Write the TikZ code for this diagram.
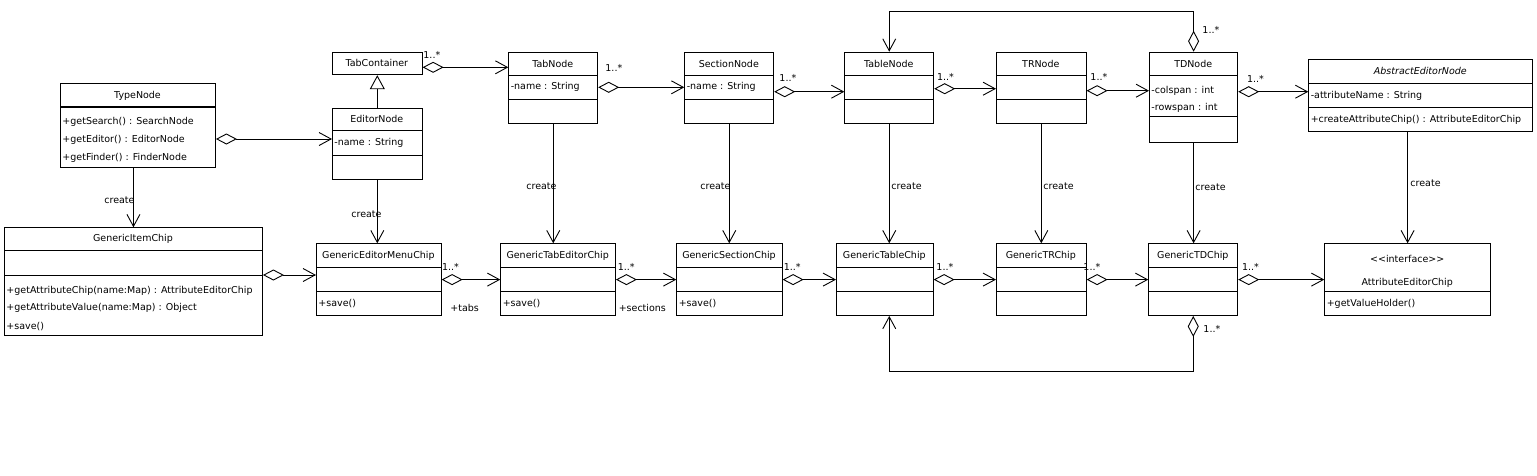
\documentclass[tikz,border=0pt]{standalone}
\usepackage{fontspec}
\setmainfont{DejaVu Sans}
\usetikzlibrary{arrows.meta}

\begin{document}
\begin{tikzpicture}[x=1pt,y=-1pt,line width=0.9pt,inner sep=0pt,
  font=\fontsize{9.5}{11}\selectfont,
  cls/.style={draw,rectangle,anchor=north west,minimum height=71.7pt},
  attr/.style={anchor=west},
  mult/.style={anchor=west},
  agg/.style={{Diamond[open,length=21pt,width=11pt]}-{Straight Barb[length=12pt,width=13pt]}},
  creates/.style={-{Straight Barb[length=12pt,width=13pt]}},
  gen/.style={-{Triangle[open,length=14pt,width=15pt]}}]
\useasboundingbox (0,0) rectangle (1537,475);
% upper row
\node[cls,minimum width=155pt,minimum height=83.4pt] (typenode) at (60,83.3) {};
\draw[line width=2pt] (typenode.west |- 0,106.7) -- (typenode.east |- 0,106.7);
\node (typenode-t) at (137.5,95.5) {TypeNode};
\node[attr] (typenode-m1) at (62,122) {+getSearch() : SearchNode};
\node[attr] (typenode-m2) at (62,140) {+getEditor() : EditorNode};
\node[attr] (typenode-m3) at (62,158) {+getFinder() : FinderNode};

\node[cls,minimum width=89.7pt,minimum height=22.6pt] (tabcontainer) at (332,51.7) {};
\node (tabcontainer-t) at (376.8,63) {TabContainer};

\node[cls,minimum width=89.7pt] (editornode) at (332,107.7) {};
\draw (editornode.west |- 0,130.7) -- (editornode.east |- 0,130.7);
\draw (editornode.west |- 0,155.7) -- (editornode.east |- 0,155.7);
\node (editornode-t) at (376.8,119.2) {EditorNode};
\node[attr] (editornode-a1) at (334,143.2) {-name : String};

\node[cls,minimum width=89pt] (tabnode) at (508.3,51.7) {};
\draw (tabnode.west |- 0,75.3) -- (tabnode.east |- 0,75.3);
\draw (tabnode.west |- 0,99.3) -- (tabnode.east |- 0,99.3);
\node (tabnode-t) at (552.8,63.5) {TabNode};
\node[attr] (tabnode-a1) at (510.3,87.3) {-name : String};

\node[cls,minimum width=89pt] (sectionnode) at (684.3,51.7) {};
\draw (sectionnode.west |- 0,75.3) -- (sectionnode.east |- 0,75.3);
\draw (sectionnode.west |- 0,99.3) -- (sectionnode.east |- 0,99.3);
\node (sectionnode-t) at (728.8,63.5) {SectionNode};
\node[attr] (sectionnode-a1) at (686.3,87.3) {-name : String};

\node[cls,minimum width=89pt] (tablenode) at (844.3,51.7) {};
\draw (tablenode.west |- 0,75.3) -- (tablenode.east |- 0,75.3);
\draw (tablenode.west |- 0,99.3) -- (tablenode.east |- 0,99.3);
\node (tablenode-t) at (888.8,63.5) {TableNode};

\node[cls,minimum width=89.7pt] (trnode) at (996,51.7) {};
\draw (trnode.west |- 0,75.3) -- (trnode.east |- 0,75.3);
\draw (trnode.west |- 0,99.3) -- (trnode.east |- 0,99.3);
\node (trnode-t) at (1040.8,63.5) {TRNode};

\node[cls,minimum width=88.3pt,minimum height=90pt] (tdnode) at (1149,51.7) {};
\draw (tdnode.west |- 0,75.3) -- (tdnode.east |- 0,75.3);
\draw (tdnode.west |- 0,116.7) -- (tdnode.east |- 0,116.7);
\node (tdnode-t) at (1193.2,63.5) {TDNode};
\node[attr] (tdnode-a1) at (1151,90.7) {-colspan : int};
\node[attr] (tdnode-a2) at (1151,107.7) {-rowspan : int};

\node[cls,minimum width=224pt,minimum height=71.4pt] (abstracteditornode) at (1308.3,59.3) {};
\draw (abstracteditornode.west |- 0,83.3) -- (abstracteditornode.east |- 0,83.3);
\draw (abstracteditornode.west |- 0,107.7) -- (abstracteditornode.east |- 0,107.7);
\node[font=\fontsize{9.5}{11}\selectfont\itshape] (abstracteditornode-t) at (1420.3,71.3) {AbstractEditorNode};
\node[attr] (abstracteditornode-a1) at (1310.3,95.5) {-attributeName : String};
\node[attr] (abstracteditornode-m1) at (1310.3,119.5) {+createAttributeChip() : AttributeEditorChip};

% lower row
\node[cls,minimum width=258pt,minimum height=107.7pt] (genericitemchip) at (4,227.3) {};
\draw (genericitemchip.west |- 0,250.7) -- (genericitemchip.east |- 0,250.7);
\draw (genericitemchip.west |- 0,275) -- (genericitemchip.east |- 0,275);
\node (genericitemchip-t) at (133,239) {GenericItemChip};
\node[attr] (genericitemchip-m1) at (6,291) {+getAttributeChip(name:Map) : AttributeEditorChip};
\node[attr] (genericitemchip-m2) at (6,308.3) {+getAttributeValue(name:Map) : Object};
\node[attr] (genericitemchip-m3) at (6,326.7) {+save()};

\node[cls,minimum width=124.7pt] (genericeditormenuchip) at (316,243.3) {};
\draw (genericeditormenuchip.west |- 0,267.7) -- (genericeditormenuchip.east |- 0,267.7);
\draw (genericeditormenuchip.west |- 0,291.7) -- (genericeditormenuchip.east |- 0,291.7);
\node (genericeditormenuchip-t) at (378.4,255.5) {GenericEditorMenuChip};
\node[attr] (genericeditormenuchip-m1) at (318,303.5) {+save()};

\node[cls,minimum width=114.7pt] (generictabeditorchip) at (500.3,243.3) {};
\draw (generictabeditorchip.west |- 0,267.7) -- (generictabeditorchip.east |- 0,267.7);
\draw (generictabeditorchip.west |- 0,291.7) -- (generictabeditorchip.east |- 0,291.7);
\node (generictabeditorchip-t) at (557.7,255.5) {GenericTabEditorChip};
\node[attr] (generictabeditorchip-m1) at (502.3,303.5) {+save()};

\node[cls,minimum width=105.4pt] (genericsectionchip) at (676.3,243.3) {};
\draw (genericsectionchip.west |- 0,267.7) -- (genericsectionchip.east |- 0,267.7);
\draw (genericsectionchip.west |- 0,291.7) -- (genericsectionchip.east |- 0,291.7);
\node (genericsectionchip-t) at (729,255.5) {GenericSectionChip};
\node[attr] (genericsectionchip-m1) at (678.3,303.5) {+save()};

\node[cls,minimum width=96.7pt] (generictablechip) at (836,243.3) {};
\draw (generictablechip.west |- 0,267.7) -- (generictablechip.east |- 0,267.7);
\draw (generictablechip.west |- 0,291.7) -- (generictablechip.east |- 0,291.7);
\node (generictablechip-t) at (884.3,255.5) {GenericTableChip};

\node[cls,minimum width=89.7pt] (generictrchip) at (996,243.3) {};
\draw (generictrchip.west |- 0,267.7) -- (generictrchip.east |- 0,267.7);
\draw (generictrchip.west |- 0,291.7) -- (generictrchip.east |- 0,291.7);
\node (generictrchip-t) at (1040.8,255.5) {GenericTRChip};

\node[cls,minimum width=89pt] (generictdchip) at (1148.3,243.3) {};
\draw (generictdchip.west |- 0,267.7) -- (generictdchip.east |- 0,267.7);
\draw (generictdchip.west |- 0,291.7) -- (generictdchip.east |- 0,291.7);
\node (generictdchip-t) at (1192.8,255.5) {GenericTDChip};

\node[cls,minimum width=165.7pt] (attributeeditorchip) at (1324.3,243.3) {};
\draw (attributeeditorchip.west |- 0,291.7) -- (attributeeditorchip.east |- 0,291.7);
\node (attributeeditorchip-s) at (1407.2,259.3) {<{}<interface>{}>};
\node (attributeeditorchip-t) at (1407.2,282.7) {AttributeEditorChip};
\node[attr] (attributeeditorchip-m1) at (1326.3,303.5) {+getValueHolder()};

% associations
\draw[agg] (typenode.east |- 0,139) -- (editornode.west |- 0,139);
\draw[gen] (editornode.north) -- (tabcontainer.south);
\draw[agg] (tabcontainer.east |- 0,67.3) -- (tabnode.west |- 0,67.3);
\draw[agg] (tabnode.east |- 0,87.3) -- (sectionnode.west |- 0,87.3);
\draw[agg] (sectionnode.east |- 0,91.7) -- (tablenode.west |- 0,91.7);
\draw[agg] (tablenode.east |- 0,88.7) -- (trnode.west |- 0,88.7);
\draw[agg] (trnode.east |- 0,90.7) -- (tdnode.west |- 0,90.7);
\draw[agg] (tdnode.east |- 0,91.7) -- (abstracteditornode.west |- 0,91.7);
\draw[agg] (tdnode.north) -- (tdnode.north |- 0,11.7) -| (tablenode.north);

\draw[agg] (genericitemchip.east |- 0,275) -- (genericeditormenuchip.west |- 0,275);
\draw[agg] (genericeditormenuchip.east) -- (generictabeditorchip.west);
\draw[agg] (generictabeditorchip.east) -- (genericsectionchip.west);
\draw[agg] (genericsectionchip.east) -- (generictablechip.west);
\draw[agg] (generictablechip.east) -- (generictrchip.west);
\draw[agg] (generictrchip.east) -- (generictdchip.west);
\draw[agg] (generictdchip.east) -- (attributeeditorchip.west);
\draw[agg] (generictdchip.south) -- (generictdchip.south |- 0,371) -| (generictablechip.south -| tablenode.south);

% create
\draw[creates] (typenode.south -| genericitemchip.north) -- (genericitemchip.north);
\draw[creates] (editornode.south) -- (editornode.south |- genericeditormenuchip.north);
\draw[creates] (tabnode.south) -- (tabnode.south |- generictabeditorchip.north);
\draw[creates] (sectionnode.south) -- (sectionnode.south |- genericsectionchip.north);
\draw[creates] (tablenode.south) -- (tablenode.south |- generictablechip.north);
\draw[creates] (trnode.south) -- (trnode.south |- generictrchip.north);
\draw[creates] (tdnode.south) -- (tdnode.south |- generictdchip.north);
\draw[creates] (abstracteditornode.south -| attributeeditorchip.north) -- (attributeeditorchip.north);

\node[anchor=east] (cr-type) at (135,200.7) {create};
\node[anchor=east] (cr-editor) at (382,214) {create};
\node[anchor=east] (cr-tab) at (557,186.7) {create};
\node[anchor=east] (cr-section) at (731,186.7) {create};
\node[anchor=west] (cr-table) at (891,186.7) {create};
\node[anchor=west] (cr-tr) at (1043,186.7) {create};
\node[anchor=west] (cr-td) at (1195,187.5) {create};
\node[anchor=west] (cr-abstract) at (1410,183.3) {create};

% multiplicities
\node[mult] (mu-tab) at (423,55) {1..*};
\node[mult] (mu-section) at (605,68.3) {1..*};
\node[mult] (mu-table) at (779,78.3) {1..*};
\node[mult] (mu-tr) at (936.7,77.3) {1..*};
\node[mult] (mu-td) at (1090,77.3) {1..*};
\node[mult] (mu-abstract) at (1246.7,79.3) {1..*};
\node[mult] (mu-loop) at (1202,30) {1..*};
\node[mult] (mu-tabchip) at (441.7,267.3) {1..*};
\node[mult] (mu-sectionchip) at (617.3,267.3) {1..*};
\node[mult] (mu-tablechip) at (783.3,267.3) {1..*};
\node[mult] (mu-trchip) at (936,267.3) {1..*};
\node[mult] (mu-tdchip) at (1083,267.3) {1..*};
\node[mult] (mu-attrchip) at (1241.7,267.3) {1..*};
\node[mult] (mu-loopchip) at (1203,329) {1..*};
\node[mult] (ro-tabs) at (450,307.7) {+tabs};
\node[mult] (ro-sections) at (618.3,307.7) {+sections};
\end{tikzpicture}
\end{document}
